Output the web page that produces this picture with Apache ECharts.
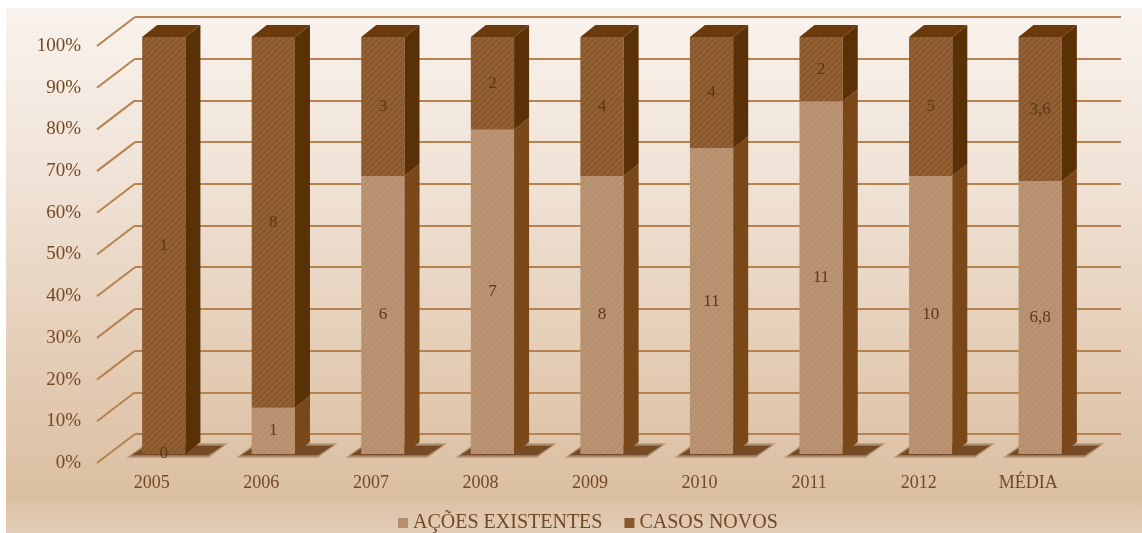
<!DOCTYPE html>
<html><head><meta charset="utf-8">
<script src="https://cdn.jsdelivr.net/npm/echarts@6/dist/echarts.min.js"></script>
<style>html,body{margin:0;padding:0;background:#fff}#c{width:1142px;height:533px}</style>
</head><body><div id="c"></div>
<script>
const categories = ['2005','2006','2007','2008','2009','2010','2011','2012','MÉDIA'];
const acoesExistentes = [0, 1, 6, 7, 8, 11, 11, 10, 6.8];
const casosNovos = [1, 8, 3, 2, 4, 4, 2, 5, 3.6];
const yTicks = [0,10,20,30,40,50,60,70,80,90,100];
const seriesNames = ['AÇÕES EXISTENTES', 'CASOS NOVOS'];

const FONT = '"Liberation Serif", "DejaVu Serif", serif';
const TXT = '#744822';
const colors = {
  front: ['#b68f6c', '#8a582b'],
  side: ['#7a4818', '#5a3006'],
  top: ['#93612f', '#6a3a0c']
};
const OFF = {x: -26, y: 20};
const DEPTH = {x: 15, y: -12};
const WALL = {x: -38, y: 29};

function fmt(v){ return String(v).replace('.', ','); }

const pc = document.createElement('canvas');
pc.width = 6; pc.height = 6;
const pctx = pc.getContext('2d');
pctx.strokeStyle = 'rgba(255,255,255,0.10)';
pctx.lineWidth = 1.2;
pctx.beginPath(); pctx.moveTo(0,6); pctx.lineTo(6,0); pctx.moveTo(-3,3); pctx.lineTo(3,-3); pctx.moveTo(3,9); pctx.lineTo(9,3); pctx.stroke();

const segData = [[], []];
categories.forEach((c, i) => {
  const tot = acoesExistentes[i] + casosNovos[i];
  const pa = acoesExistentes[i] / tot * 100;
  segData[0].push([i, 0, pa, acoesExistentes[i], casosNovos[i] === 0 ? 1 : 0]);
  segData[1].push([i, pa, 100, casosNovos[i], 1]);
});

function barRender(sIdx){
  return function(params, api){
    const cat = api.value(0), s = api.value(1), e = api.value(2), raw = api.value(3), isTop = api.value(4);
    const w = api.size([1, 0])[0] * 0.395;
    const pb = api.coord([cat, s]);
    const pt = api.coord([cat, e]);
    const xl = pb[0] - w/2 + OFF.x, xr = pb[0] + w/2 + OFF.x;
    const yb = pb[1] + OFF.y, yt = pt[1] + OFF.y;
    const children = [];
    if (sIdx === 0) {
      const layers = [[6, 0.22], [3, 0.35], [0, 0.55]];
      layers.forEach(([g, a]) => {
        children.push({type:'polygon', shape:{points:[
          [xl-10-g, yb+1+g/2],[xl+4, yb-8-g/2],[xr+DEPTH.x+22+g, yb-8-g/2],[xr+DEPTH.x+8, yb+1+g/2]
        ]}, style:{fill:'rgba(85,40,0,' + a + ')'}, z2:0});
      });
    }
    if (yb - yt > 0.1) {
      children.push({type:'rect', shape:{x:xl, y:yt, width:w, height:yb-yt},
        style:{fill:colors.front[sIdx]}, z2:2});
      children.push({type:'rect', shape:{x:xl, y:yt, width:w, height:yb-yt},
        style:{fill:{image:pc, repeat:'repeat'}}, z2:3, silent:true});
      children.push({type:'polygon', shape:{points:[[xr,yt],[xr+DEPTH.x,yt+DEPTH.y],[xr+DEPTH.x,yb+DEPTH.y],[xr,yb]]},
        style:{fill:colors.side[sIdx]}, z2:2});
      if (isTop) {
        children.push({type:'polygon', shape:{points:[[xl,yt],[xl+DEPTH.x,yt+DEPTH.y],[xr+DEPTH.x,yt+DEPTH.y],[xr,yt]]},
          style:{fill:colors.top[sIdx]}, z2:2});
      }
    }
    children.push({type:'text', style:{text: fmt(raw), x:(xl+xr)/2, y:(yt+yb)/2, align:'center', verticalAlign:'middle',
      font:'17px ' + FONT, fill:'#5a381a'}, z2:5});
    return {type:'group', children};
  };
}

const chart = echarts.init(document.getElementById('c'), null, {renderer:'canvas'});
chart.setOption({
  animation:false,
  graphic:[{type:'rect', shape:{x:6,y:8,width:1136,height:525}, z:-10,
    style:{fill:new echarts.graphic.LinearGradient(0,0,0,1,[
      {offset:0,color:'#f9f3ee'},{offset:0.35,color:'#efe1d4'},{offset:0.7,color:'#e3cbb3'},{offset:0.93,color:'#dbbfa2'},{offset:1,color:'#e3cdb8'}])}}],
  legend:{top:508, left:393, itemWidth:10, itemHeight:10, itemGap:22, icon:'rect',
    textStyle:{fontFamily:FONT, fontSize:20, color:TXT}, data:seriesNames},
  grid:[
    {left:135, right:21, top:17, bottom:99},
    {left:97, right:59, top:46, bottom:70}
  ],
  xAxis:[
    {type:'category', data:categories, gridIndex:0, axisLine:{show:false}, axisTick:{show:false}, axisLabel:{show:false}},
    {type:'category', data:categories, gridIndex:1, axisLine:{show:false}, axisTick:{show:false},
      axisLabel:{margin:11, fontFamily:FONT, fontSize:18, color:TXT}}
  ],
  yAxis:[
    {type:'value', gridIndex:0, min:0, max:100, interval:10, axisLabel:{show:false},
      axisLine:{show:false}, axisTick:{show:false}, splitLine:{show:true, lineStyle:{color:'#b6824f', width:2}}},
    {type:'value', gridIndex:1, min:0, max:100, interval:10, axisLine:{show:false}, axisTick:{show:false}, splitLine:{show:false},
      axisLabel:{margin:16, fontFamily:FONT, fontSize:19, color:TXT, formatter:'{value}%'}}
  ],
  series:[
    {type:'custom', name:'_diag', xAxisIndex:0, yAxisIndex:0, data:yTicks.map(v=>[v]), silent:true, z:1,
      renderItem:function(params, api){
        const x0 = params.coordSys.x;
        const p = api.coord([0, api.value(0)]);
        return {type:'line', shape:{x1:x0, y1:p[1], x2:x0+WALL.x, y2:p[1]+WALL.y}, style:{stroke:'#b6824f', lineWidth:2}};
      }},
    {type:'custom', name:seriesNames[0], xAxisIndex:0, yAxisIndex:0, data:segData[0], z:3,
      itemStyle:{color:colors.front[0]}, renderItem:barRender(0)},
    {type:'custom', name:seriesNames[1], xAxisIndex:0, yAxisIndex:0, data:segData[1], z:3,
      itemStyle:{color:colors.front[1]}, renderItem:barRender(1)}
  ]
});
</script></body></html>
